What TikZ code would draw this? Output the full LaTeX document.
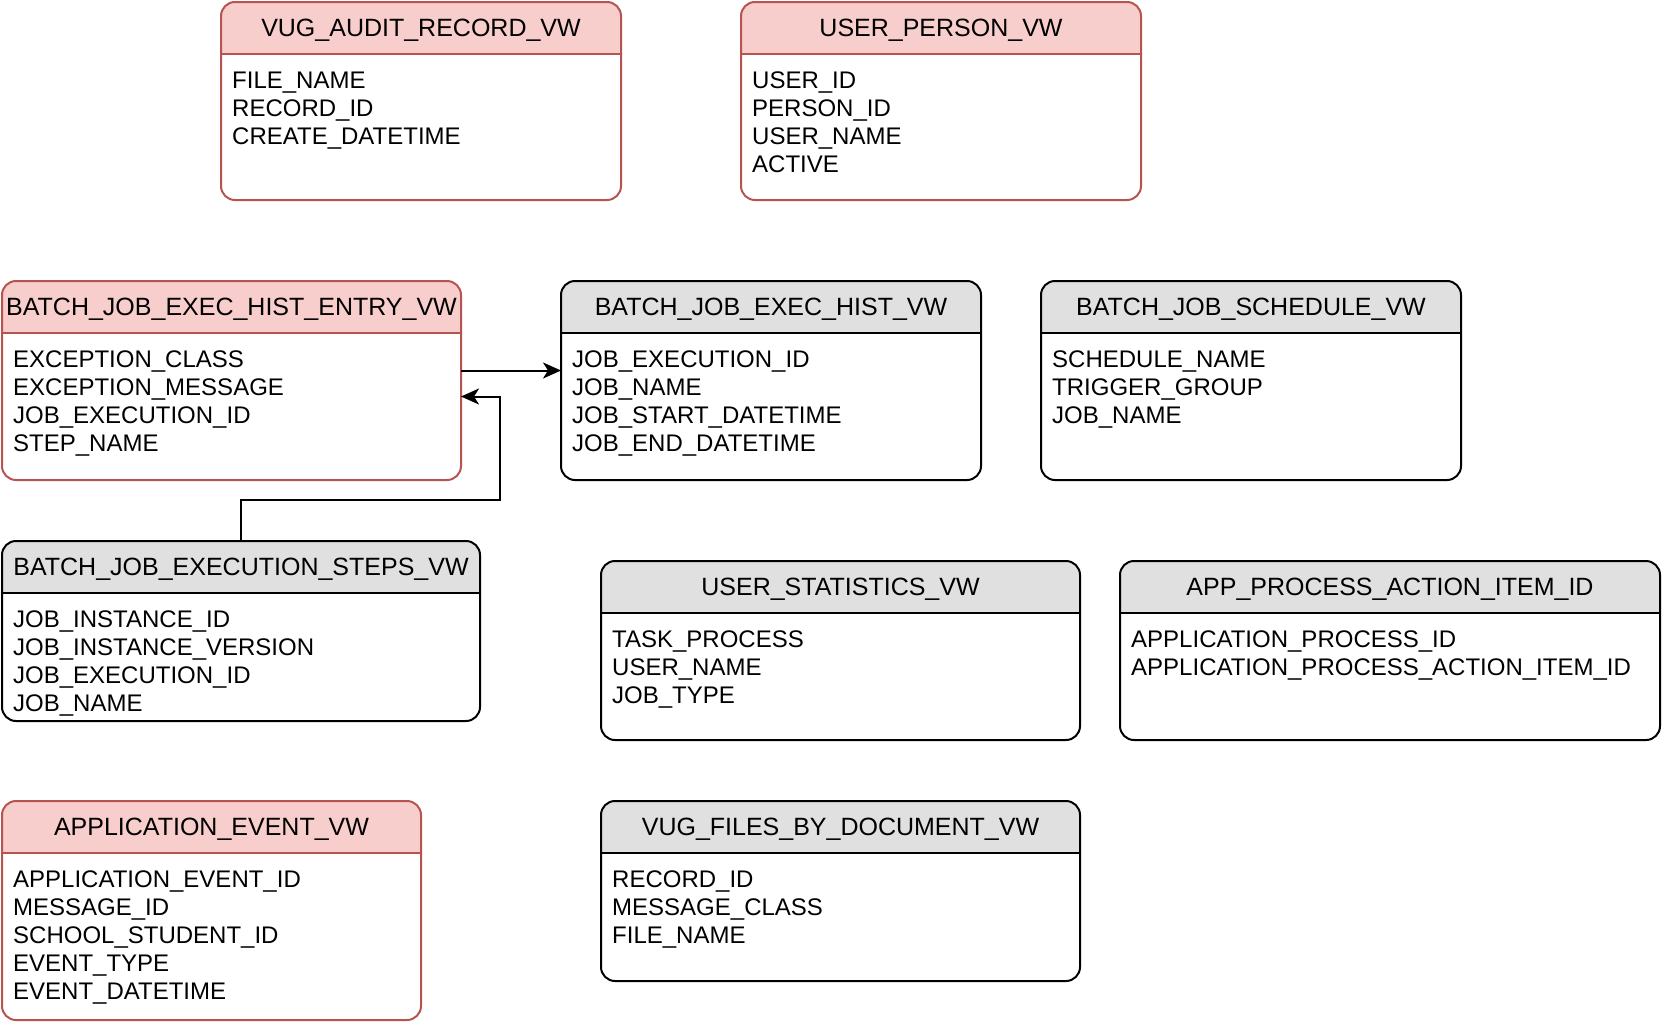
\documentclass[tikz,border=0pt]{standalone}
\usepackage{fontspec}
\setmainfont{Liberation Sans}
\usetikzlibrary{arrows.meta}
\definecolor{redfill}{HTML}{F8CECC}
\definecolor{redstroke}{HTML}{B85450}
\definecolor{grayfill}{HTML}{E0E0E0}

\tikzset{
  tablebox/.style={anchor=north west, inner sep=0pt, outer sep=0pt, fill=white},
  redhead/.style={fill=redfill},
  grayhead/.style={fill=grayfill},
  redline/.style={draw=redstroke, line width=2pt},
  grayline/.style={draw=black, line width=2pt},
  titletext/.style={anchor=base, inner sep=0pt, font=\fontsize{25}{28}\selectfont},
  fieldtext/.style={anchor=north west, align=left, inner sep=0pt, font=\fontsize{24}{28}\selectfont},
  link/.style={draw=black, line width=2pt, -{Stealth[length=18pt,width=16pt,inset=5pt]}},
}

% #1 name, #2 red/gray, #3 x, #4 y, #5 width, #6 height, #7 title, #8 fields
\newcommand\dbtable[8]{%
  \node[tablebox, minimum width=#5pt, minimum height=#6pt] (#1) at (#3,#4) {};
  \begin{scope}
    \clip[rounded corners=14pt] (#1.north west) rectangle (#1.south east);
    \fill[#2head] (#1.north west) rectangle ([yshift=-52pt]#1.north east);
  \end{scope}
  \draw[#2line] ([yshift=-52pt]#1.north west) -- ([yshift=-52pt]#1.north east);
  \draw[#2line, rounded corners=14pt] (#1.north west) rectangle (#1.south east);
  \node[titletext] (#1-title) at ([yshift=-34.5pt]#1.north) {#7};
  \node[fieldtext] (#1-fields) at ([xshift=11pt,yshift=-70pt]#1.north west) {#8};
}

\begin{document}
\begin{tikzpicture}[x=1pt, y=-1pt]
  \useasboundingbox (0,0) rectangle (1662,1028);

  \dbtable{audit}{red}{221}{2}{400}{198}{VUG\_AUDIT\_RECORD\_VW}
    {FILE\_NAME\\RECORD\_ID\\CREATE\_DATETIME}
  \dbtable{person}{red}{741}{2}{400}{198}{USER\_PERSON\_VW}
    {USER\_ID\\PERSON\_ID\\USER\_NAME\\ACTIVE}

  \dbtable{entry}{red}{2}{281}{459}{199}{BATCH\_JOB\_EXEC\_HIST\_ENTRY\_VW}
    {EXCEPTION\_CLASS\\EXCEPTION\_MESSAGE\\JOB\_EXECUTION\_ID\\STEP\_NAME}
  \dbtable{hist}{gray}{561}{281}{420}{199}{BATCH\_JOB\_EXEC\_HIST\_VW}
    {JOB\_EXECUTION\_ID\\JOB\_NAME\\JOB\_START\_DATETIME\\JOB\_END\_DATETIME}
  \dbtable{sched}{gray}{1041}{281}{420}{199}{BATCH\_JOB\_SCHEDULE\_VW}
    {SCHEDULE\_NAME\\TRIGGER\_GROUP\\JOB\_NAME}

  \dbtable{steps}{gray}{2}{541}{478}{180}{BATCH\_JOB\_EXECUTION\_STEPS\_VW}
    {JOB\_INSTANCE\_ID\\JOB\_INSTANCE\_VERSION\\JOB\_EXECUTION\_ID\\JOB\_NAME}
  \dbtable{stats}{gray}{601}{561}{479}{179}{USER\_STATISTICS\_VW}
    {TASK\_PROCESS\\USER\_NAME\\JOB\_TYPE}
  \dbtable{app}{gray}{1120}{561}{540}{179}{APP\_PROCESS\_ACTION\_ITEM\_ID}
    {APPLICATION\_PROCESS\_ID\\APPLICATION\_PROCESS\_ACTION\_ITEM\_ID}

  \dbtable{event}{red}{2}{801}{419}{219}{APPLICATION\_EVENT\_VW}
    {APPLICATION\_EVENT\_ID\\MESSAGE\_ID\\SCHOOL\_STUDENT\_ID\\EVENT\_TYPE\\EVENT\_DATETIME}
  \dbtable{files}{gray}{601}{801}{479}{180}{VUG\_FILES\_BY\_DOCUMENT\_VW}
    {RECORD\_ID\\MESSAGE\_CLASS\\FILE\_NAME}

  % connectors
  \coordinate (entryout) at ([yshift=10pt]entry.east);
  \coordinate (entryin) at ([yshift=-16pt]entry.east);
  \draw[link] (entryout) -- (entryout -| hist.west);
  \draw[link] (steps.north) -- ++(0,-41) -| ([xshift=39pt]entryin) -- (entryin);
\end{tikzpicture}
\end{document}
